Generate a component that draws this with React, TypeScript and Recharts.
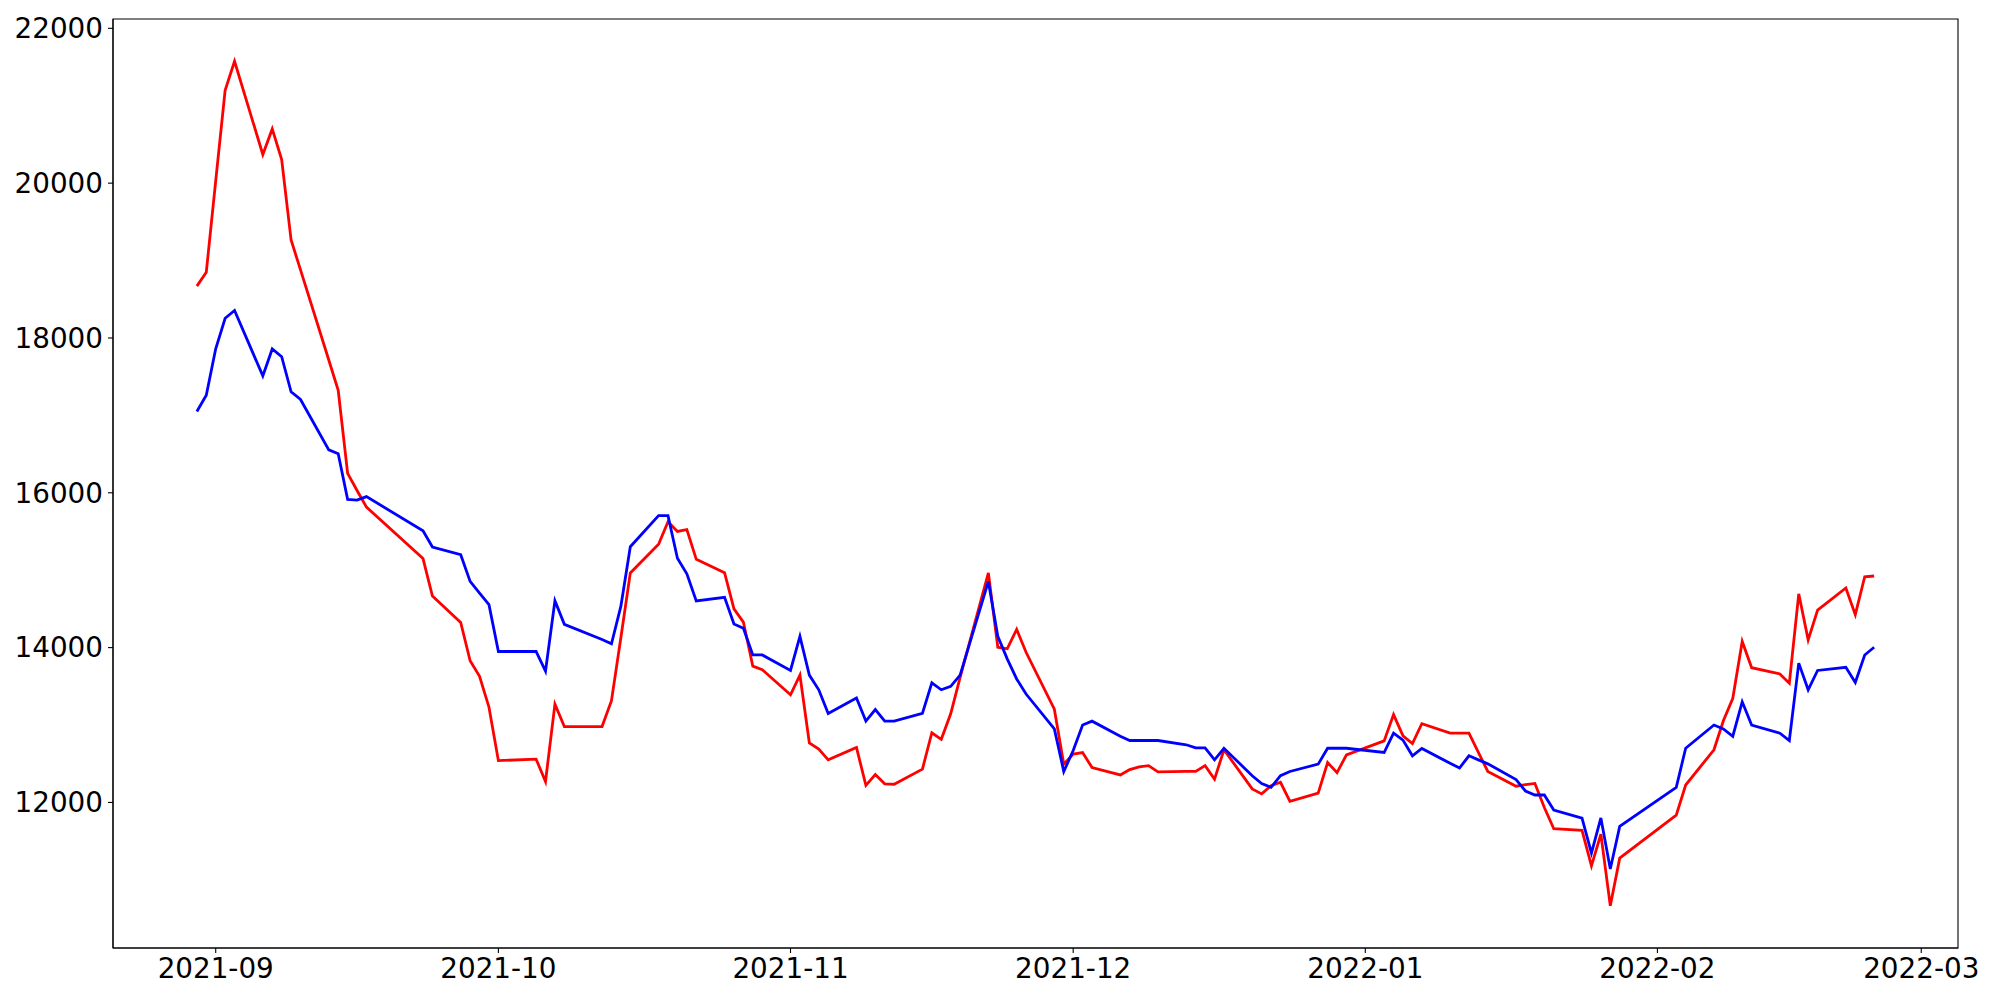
import React from 'react';
import { LineChart, Line, XAxis, YAxis, ReferenceArea } from 'recharts';

// trading days (KRX calendar)
const dates = [
  '2021-08-30', '2021-08-31',
  '2021-09-01', '2021-09-02', '2021-09-03',
  '2021-09-06', '2021-09-07', '2021-09-08', '2021-09-09', '2021-09-10',
  '2021-09-13', '2021-09-14', '2021-09-15', '2021-09-16', '2021-09-17',
  '2021-09-23', '2021-09-24',
  '2021-09-27', '2021-09-28', '2021-09-29', '2021-09-30', '2021-10-01',
  '2021-10-05', '2021-10-06', '2021-10-07', '2021-10-08',
  '2021-10-12', '2021-10-13', '2021-10-14', '2021-10-15',
  '2021-10-18', '2021-10-19', '2021-10-20', '2021-10-21', '2021-10-22',
  '2021-10-25', '2021-10-26', '2021-10-27', '2021-10-28', '2021-10-29',
  '2021-11-01', '2021-11-02', '2021-11-03', '2021-11-04', '2021-11-05',
  '2021-11-08', '2021-11-09', '2021-11-10', '2021-11-11', '2021-11-12',
  '2021-11-15', '2021-11-16', '2021-11-17', '2021-11-18', '2021-11-19',
  '2021-11-22', '2021-11-23', '2021-11-24', '2021-11-25', '2021-11-26',
  '2021-11-29', '2021-11-30', '2021-12-01', '2021-12-02', '2021-12-03',
  '2021-12-06', '2021-12-07', '2021-12-08', '2021-12-09', '2021-12-10',
  '2021-12-13', '2021-12-14', '2021-12-15', '2021-12-16', '2021-12-17',
  '2021-12-20', '2021-12-21', '2021-12-22', '2021-12-23', '2021-12-24',
  '2021-12-27', '2021-12-28', '2021-12-29', '2021-12-30',
  '2022-01-03', '2022-01-04', '2022-01-05', '2022-01-06', '2022-01-07',
  '2022-01-10', '2022-01-11', '2022-01-12', '2022-01-13', '2022-01-14',
  '2022-01-17', '2022-01-18', '2022-01-19', '2022-01-20', '2022-01-21',
  '2022-01-24', '2022-01-25', '2022-01-26', '2022-01-27', '2022-01-28',
  '2022-02-03', '2022-02-04',
  '2022-02-07', '2022-02-08', '2022-02-09', '2022-02-10', '2022-02-11',
  '2022-02-14', '2022-02-15', '2022-02-16', '2022-02-17', '2022-02-18',
  '2022-02-21', '2022-02-22', '2022-02-23', '2022-02-24',
];

const redValues = [
  18670, 18850,
  20030, 21200, 21575,
  20370, 20700, 20305, 19265, 18880,
  17715, 17325, 16250, 16030, 15815,
  15150, 14665,
  14325, 13830, 13630, 13230, 12540,
  12560, 12270, 13270, 12980,
  12980, 13315, 14130, 14965,
  15335, 15625, 15500, 15525, 15140,
  14968, 14500, 14330, 13760, 13715,
  13390, 13645, 12770, 12690, 12550,
  12710, 12220, 12360, 12240, 12235,
  12430, 12900, 12815, 13145, 13615,
  14965, 14005, 13985, 14235, 13940,
  13205, 12495, 12625, 12645, 12450,
  12355, 12425, 12460, 12475, 12395,
  12400, 12400, 12475, 12300, 12680,
  12175, 12110, 12215, 12260, 12015,
  12120, 12515, 12385, 12615,
  12795, 13135, 12860, 12760, 13018,
  12895, 12895, 12895, 12646, 12400,
  12210, 12230, 12245, 11935, 11660,
  11640, 11180, 11590, 10665, 11280,
  11835, 12225,
  12680, 13055, 13345, 14080, 13740,
  13660, 13540, 14695, 14100, 14485,
  14770, 14425, 14915, 14925,
];

const blueValues = [
  17050, 17260,
  17860, 18255, 18355,
  17510, 17858, 17758, 17305, 17205,
  16555, 16505, 15915, 15905, 15950,
  15510, 15300,
  15200, 14855, 14705, 14555, 13950,
  13950, 13695, 14605, 14300,
  14105, 14050, 14535, 15303,
  15705, 15705, 15155, 14953, 14602,
  14650, 14306, 14250, 13905, 13905,
  13705, 14145, 13645, 13455, 13150,
  13350, 13050, 13200, 13050, 13050,
  13150, 13545, 13455, 13500, 13645,
  14855, 14145, 13855, 13595, 13400,
  12950, 12400, 12670, 13000, 13050,
  12855, 12800, 12800, 12800, 12800,
  12745, 12705, 12705, 12550, 12700,
  12345, 12245, 12195, 12345, 12400,
  12495, 12700, 12700, 12700,
  12645, 12895, 12805, 12602, 12698,
  12505, 12445, 12602, 12550, 12498,
  12295, 12148, 12096, 12096, 11902,
  11798, 11345, 11800, 11140, 11690,
  12195, 12700,
  13000, 12950, 12855, 13300, 13000,
  12895, 12800, 13800, 13455, 13705,
  13745, 13550, 13905, 14005,
];

const monthTicks = ['2021-09-01', '2021-10-01', '2021-11-01', '2021-12-01', '2022-01-01', '2022-02-01', '2022-03-01'];
const yTicks = [12000, 14000, 16000, 18000, 20000, 22000];

const DAY = 86400000;
const toDay = (s: string) => {
  const [y, m, d] = s.split('-').map(Number);
  return Date.UTC(y, m - 1, d) / DAY;
};
const fmtMonth = (t: number) => {
  const d = new Date(t * DAY);
  return `${d.getUTCFullYear()}-${String(d.getUTCMonth() + 1).padStart(2, '0')}`;
};

const data = dates.map((s, i) => ({ t: toDay(s), red: redValues[i], blue: blueValues[i] }));

// matplotlib-style 5% margins
const xMin = data[0].t;
const xMax = data[data.length - 1].t;
const xPad = (xMax - xMin) * 0.05;
const xDomain = [xMin - xPad, xMax + xPad];

const allVals = [...redValues, ...blueValues];
const yMin = Math.min(...allVals);
const yMax = Math.max(...allVals);
const yPad = (yMax - yMin) * 0.05;
const yDomain = [yMin - yPad, yMax + yPad];

const tickStyle = { fill: '#000', fontSize: 27.8, fontFamily: 'DejaVu Sans, sans-serif' };
const axisStroke = { stroke: '#000', strokeWidth: 1.1 };

export default function App() {
  return (
    <div style={{ position: 'absolute', left: 0, top: 0, width: 2000, height: 1000, background: '#fff' }}>
      <LineChart width={2000} height={1000} data={data} margin={{ top: 19, right: 42, bottom: 0, left: 0 }}>
        <XAxis
          dataKey="t"
          type="number"
          domain={xDomain}
          ticks={monthTicks.map(toDay)}
          tickFormatter={fmtMonth}
          interval={0}
          height={52}
          tick={tickStyle}
          tickSize={5}
          tickMargin={5}
          axisLine={axisStroke}
          tickLine={axisStroke}
          allowDataOverflow
        />
        <YAxis
          type="number"
          domain={yDomain}
          ticks={yTicks}
          interval={0}
          width={113}
          tick={tickStyle}
          tickSize={5}
          tickMargin={5}
          axisLine={axisStroke}
          tickLine={axisStroke}
          allowDataOverflow
        />
        {/* axes frame (top and right spines) */}
        <ReferenceArea
          x1={xDomain[0]}
          x2={xDomain[1]}
          y1={yDomain[0]}
          y2={yDomain[1]}
          fill="none"
          stroke="#000"
          strokeWidth={1.1}
          ifOverflow="visible"
        />
        <Line type="linear" dataKey="red" stroke="#ff0000" strokeWidth={2.8} dot={false} isAnimationActive={false} />
        <Line type="linear" dataKey="blue" stroke="#0000ff" strokeWidth={2.8} dot={false} isAnimationActive={false} />
      </LineChart>
    </div>
  );
}
